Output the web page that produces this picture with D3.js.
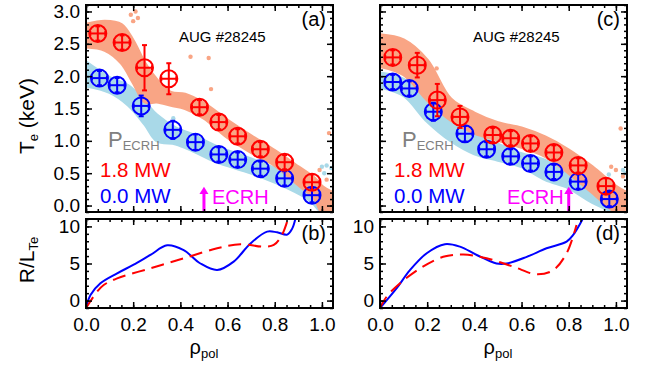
<!DOCTYPE html>
<html>
<head>
<meta charset="utf-8">
<script src="https://cdn.jsdelivr.net/npm/d3@7"></script>
<style>
  body { margin: 0; background: #fff; }
  svg { font-family: "Liberation Sans", Arial, sans-serif; }
</style>
</head>
<body>
<svg id="chart" width="656" height="370"></svg>
<script>
// ---- Te profiles, panel (a) ----
const rhoRedA = [0.05, 0.153, 0.248, 0.351, 0.481, 0.563, 0.643, 0.739, 0.842, 0.958];
const teRedA  = [2.66, 2.52, 2.13, 1.96, 1.52, 1.29, 1.07, 0.87, 0.67, 0.36];
const errRedA = [0.1, 0.1, 0.35, 0.24, 0.1, 0.1, 0.1, 0.1, 0.1, 0.12];
const rhoBlueA = [0.057, 0.132, 0.234, 0.368, 0.464, 0.563, 0.643, 0.739, 0.842, 0.958];
const teBlueA  = [1.97, 1.86, 1.54, 1.17, 0.98, 0.79, 0.71, 0.57, 0.42, 0.16];
const errBlueA = [0.1, 0.1, 0.16, 0.14, 0.12, 0.08, 0.08, 0.07, 0.05, 0.1];

// ---- Te profiles, panel (c) ----
const rhoRedC = [0.054, 0.158, 0.243, 0.339, 0.478, 0.554, 0.638, 0.737, 0.84, 0.958];
const teRedC  = [2.29, 2.17, 1.63, 1.37, 1.09, 1.04, 0.96, 0.82, 0.62, 0.30];
const errRedC = [0.1, 0.19, 0.25, 0.17, 0.07, 0.07, 0.07, 0.1, 0.1, 0.12];
const rhoBlueC = [0.054, 0.124, 0.226, 0.36, 0.452, 0.554, 0.638, 0.737, 0.84, 0.972];
const teBlueC  = [1.91, 1.81, 1.45, 1.11, 0.87, 0.76, 0.65, 0.52, 0.37, 0.10];
const errBlueC = [0.1, 0.1, 0.14, 0.12, 0.07, 0.07, 0.07, 0.07, 0.06, 0.1];

// ---- raw ECE clouds (envelopes) ----
const bandRhoRedA = [0, 0.08, 0.15, 0.2, 0.25, 0.3, 0.36, 0.42, 0.5, 0.6, 0.7, 0.8, 0.9, 0.97, 1.0, 1.047];
const bandHiRedA  = [2.8, 2.85, 2.8, 2.55, 2.2, 1.95, 1.75, 1.72, 1.58, 1.32, 1.08, 0.85, 0.6, 0.42, 0.3, 0.2];
const bandLoRedA  = [2.45, 2.4, 2.2, 1.9, 1.6, 1.6, 1.55, 1.5, 1.35, 1.05, 0.82, 0.62, 0.32, 0.1, -0.1, -0.1];
const bandRhoBlueA = [0, 0.1, 0.18, 0.25, 0.3, 0.38, 0.45, 0.55, 0.7, 0.85, 0.95, 1.0, 1.047];
const bandHiBlueA  = [2.22, 1.98, 1.85, 1.6, 1.4, 1.2, 1.1, 0.92, 0.72, 0.5, 0.3, 0.15, 0.1];
const bandLoBlueA  = [1.85, 1.75, 1.55, 1.25, 1.0, 0.95, 0.85, 0.68, 0.5, 0.28, 0.08, -0.1, -0.1];
const bandRhoRedC = [0, 0.1, 0.2, 0.3, 0.4, 0.5, 0.6, 0.7, 0.8, 0.9, 1.0, 1.047];
const bandHiRedC  = [2.64, 2.56, 2.25, 1.65, 1.43, 1.28, 1.2, 1.06, 0.86, 0.6, 0.3, 0.2];
const bandLoRedC  = [2.15, 2.02, 1.63, 1.32, 1.12, 1.01, 0.9, 0.76, 0.5, 0.2, -0.1, -0.1];
const bandRhoBlueC = [0, 0.1, 0.2, 0.3, 0.4, 0.5, 0.6, 0.7, 0.8, 0.9, 1.0, 1.047];
const bandHiBlueC  = [2.05, 1.95, 1.6, 1.4, 1.1, 0.95, 0.8, 0.7, 0.47, 0.3, 0.1, 0.05];
const bandLoBlueC  = [1.83, 1.7, 1.3, 1.0, 0.8, 0.7, 0.6, 0.4, 0.27, 0.05, -0.1, -0.1];

const strayRedA  = [[0.19, 2.95], [0.2, 2.85], [0.21, 3.0], [0.22, 2.9], [0.443, 2.3], [0.52, 2.28], [0.53, 1.8], [1.03, 1.12], [0.99, 0.55], [1.02, 0.4]];
const strayBlueA = [[1.0, 0.6], [1.02, 0.62], [1.04, 0.58], [1.01, 0.5], [0.4, 1.05], [0.37, 1.35]];
const strayRedC  = [[1.02, 1.19], [0.24, 2.12], [0.98, 0.6], [1.0, 0.55], [1.03, 0.45]];
const strayBlueC = [[1.03, 0.55], [1.04, 0.5], [0.97, 0.48]];

// ---- R/L_Te, panels (b) and (d) ----
const rhoGradBlueB = [0, 0.019, 0.061, 0.132, 0.2, 0.273, 0.344, 0.414, 0.485, 0.556, 0.626, 0.697, 0.768, 0.81, 0.853, 0.874, 0.888];
const gradBlueB    = [-1, 0.75, 2.33, 3.68, 4.8, 6.15, 7.45, 6.8, 5.0, 4.12, 5.25, 7.7, 9.3, 9.2, 8.9, 9.7, 11.1];
const rhoGradRedB  = [0, 0.047, 0.075, 0.132, 0.273, 0.414, 0.556, 0.655, 0.753, 0.796, 0.83, 0.855];
const gradRedB     = [-1, 1.2, 2.1, 3.0, 4.35, 5.7, 7.05, 7.6, 7.27, 7.5, 8.8, 10.9];
const rhoGradBlueD = [0, 0.07, 0.127, 0.198, 0.275, 0.339, 0.41, 0.494, 0.537, 0.622, 0.706, 0.791, 0.819, 0.861];
const gradBlueD    = [-1, 1.65, 4.1, 6.38, 7.6, 7.27, 6.15, 5.0, 5.0, 5.9, 7.05, 7.95, 8.85, 11.1];
const rhoGradRedD  = [0, 0.028, 0.085, 0.17, 0.268, 0.353, 0.452, 0.565, 0.664, 0.734, 0.791, 0.833];
const gradRedD     = [-1, 0.53, 2.33, 4.35, 5.9, 6.2, 5.7, 4.57, 3.54, 4.1, 6.38, 10.2];

const xTicks = [0, 0.2, 0.4, 0.6, 0.8, 1.0];
const teTicks = [0, 0.5, 1.0, 1.5, 2.0, 2.5, 3.0];
const gradTicks = [0, 5, 10];
const shotLabel = 'AUG #28245';

const svg = d3.select('#chart');
const pw = 247, th = 207, bh = 89, topY = 5, botY = 219;
const x = d3.scaleLinear().domain([0, 1.047]).range([0, pw]);
const yT = d3.scaleLinear().domain([-0.1, 3.1]).range([th, 0]);
const yB = d3.scaleLinear().domain([-1, 11]).range([bh, 0]);

const RED = '#ff0000', BLUE = '#0000ff', ORANGE = '#f9a585', LBLUE = '#a9d9e8';

function axisTicks(g, axis, vals, size, fmt, pad) {
  g.call(axis.tickValues(vals).tickSize(-size).tickPadding(pad || 6).tickFormat(fmt || ''));
  g.select('.domain').remove();
  g.selectAll('line').attr('stroke', '#000').attr('stroke-width', 1.5);
  g.selectAll('text').attr('font-size', 19).attr('fill', '#000')
    .attr('font-family', '"Liberation Sans", Arial, sans-serif');
}

function frame(g, h, yScale, major, minor, showX, showY, yfmt) {
  const xMinor = d3.range(0, 21).map(i => i * 0.05);
  axisTicks(g.append('g').attr('transform', `translate(0,${h})`), d3.axisBottom(x), xMinor, 3);
  axisTicks(g.append('g').attr('transform', `translate(0,${h})`), d3.axisBottom(x), xTicks, 6,
    showX ? d3.format('.1f') : null, 10);
  axisTicks(g.append('g'), d3.axisTop(x), xMinor, 3);
  axisTicks(g.append('g'), d3.axisTop(x), xTicks, 6);
  axisTicks(g.append('g'), d3.axisLeft(yScale), minor, 3);
  axisTicks(g.append('g'), d3.axisLeft(yScale), major, 6, showY ? yfmt : null, 6);
  axisTicks(g.append('g').attr('transform', `translate(${pw},0)`), d3.axisRight(yScale), minor, 3);
  axisTicks(g.append('g').attr('transform', `translate(${pw},0)`), d3.axisRight(yScale), major, 6);
  g.append('rect').attr('width', pw).attr('height', h)
    .attr('fill', 'none').attr('stroke', '#000').attr('stroke-width', 2);
}

function cloud(g, rho, hi, lo, stray, color) {
  const pts = rho.map((r, i) => ({r, hi: hi[i], lo: lo[i]}));
  g.append('path').datum(pts)
    .attr('d', d3.area().x(d => x(d.r)).y0(d => yT(d.lo)).y1(d => yT(d.hi)).curve(d3.curveCatmullRom))
    .attr('fill', color).attr('stroke', color).attr('stroke-width', 3).attr('stroke-linejoin', 'round');
  g.selectAll(null).data(stray).join('circle')
    .attr('cx', d => x(d[0])).attr('cy', d => yT(d[1])).attr('r', 2.2).attr('fill', color);
}

function markers(g, rho, te, err, color) {
  const pts = rho.map((r, i) => ({r, te: te[i], e: Math.max(err[i], 0.11)}));
  const m = g.selectAll(null).data(pts).join('g')
    .attr('stroke', color).attr('stroke-width', 2).attr('fill', 'none');
  m.append('circle').attr('cx', d => x(d.r)).attr('cy', d => yT(d.te)).attr('r', 8.5);
  m.append('line').attr('x1', d => x(d.r)).attr('x2', d => x(d.r))
    .attr('y1', d => yT(d.te - d.e)).attr('y2', d => yT(d.te + d.e));
  m.append('line').attr('x1', d => x(d.r) - 7.5).attr('x2', d => x(d.r) + 7.5)
    .attr('y1', d => yT(d.te)).attr('y2', d => yT(d.te));
  ['+', '-'].forEach(s => {
    m.append('line').attr('x1', d => x(d.r) - 2.5).attr('x2', d => x(d.r) + 2.5)
      .attr('y1', d => yT(s === '+' ? d.te + d.e : d.te - d.e))
      .attr('y2', d => yT(s === '+' ? d.te + d.e : d.te - d.e));
    m.append('line').attr('y1', d => yT(d.te) - 2.5).attr('y2', d => yT(d.te) + 2.5)
      .attr('x1', d => x(d.r) + (s === '+' ? 7.5 : -7.5))
      .attr('x2', d => x(d.r) + (s === '+' ? 7.5 : -7.5));
  });
}

function gradLine(g, rho, val, color, dashed) {
  g.append('path').datum(rho.map((r, i) => [r, val[i]]))
    .attr('d', d3.line().x(d => x(d[0])).y(d => yB(d[1])).curve(d3.curveCatmullRom))
    .attr('fill', 'none').attr('stroke', color).attr('stroke-width', 2)
    .attr('stroke-dasharray', dashed ? '13,7' : null);
}

const panels = [
  {x0: 86, letters: ['(a)', '(b)'], showY: true, ecrh: 0.5, textLeft: false,
   red: [rhoRedA, teRedA, errRedA], blue: [rhoBlueA, teBlueA, errBlueA],
   bandR: [bandRhoRedA, bandHiRedA, bandLoRedA, strayRedA], bandB: [bandRhoBlueA, bandHiBlueA, bandLoBlueA, strayBlueA],
   gradB: [rhoGradBlueB, gradBlueB], gradR: [rhoGradRedB, gradRedB]},
  {x0: 380, letters: ['(c)', '(d)'], showY: false, ecrh: 0.8, textLeft: true,
   red: [rhoRedC, teRedC, errRedC], blue: [rhoBlueC, teBlueC, errBlueC],
   bandR: [bandRhoRedC, bandHiRedC, bandLoRedC, strayRedC], bandB: [bandRhoBlueC, bandHiBlueC, bandLoBlueC, strayBlueC],
   gradB: [rhoGradBlueD, gradBlueD], gradR: [rhoGradRedD, gradRedD]}
];

panels.forEach((p, k) => {
  // ---- top: Te ----
  const gt = svg.append('g').attr('transform', `translate(${p.x0},${topY})`);
  const cid = 'clipT' + k;
  gt.append('clipPath').attr('id', cid).append('rect').attr('width', pw).attr('height', th);
  const data = gt.append('g').attr('clip-path', `url(#${cid})`);
  cloud(data, ...p.bandB, LBLUE);
  cloud(data, ...p.bandR, ORANGE);
  markers(data, ...p.blue, BLUE);
  markers(data, ...p.red, RED);

  gt.append('text').attr('x', x(0.578)).attr('y', 36.5).attr('text-anchor', 'middle')
    .attr('font-size', 15).text(shotLabel);
  gt.append('text').attr('x', 240).attr('y', 21).attr('text-anchor', 'end')
    .attr('font-size', 20).text(p.letters[0]);

  const pe = gt.append('text').attr('x', 22).attr('y', 142).attr('fill', '#808080').attr('font-size', 22);
  pe.append('tspan').text('P');
  pe.append('tspan').attr('font-size', 13).attr('dy', 3).text('ECRH');
  gt.append('text').attr('x', 14).attr('y', 172).attr('fill', RED).attr('font-size', 20.5).text('1.8 MW');
  gt.append('text').attr('x', 14).attr('y', 198).attr('fill', BLUE).attr('font-size', 20.5).text('0.0 MW');

  // ECRH deposition arrow
  const ax = x(p.ecrh);
  gt.append('line').attr('x1', ax).attr('x2', ax).attr('y1', yT(0.2)).attr('y2', th)
    .attr('stroke', '#ff00ff').attr('stroke-width', 3);
  gt.append('path').attr('fill', '#ff00ff')
    .attr('d', `M${ax},${yT(0.29)} L${ax - 4.5},${yT(0.18)} L${ax + 4.5},${yT(0.18)} Z`);
  gt.append('text').attr('x', p.textLeft ? ax - 5 : ax + 8).attr('y', 199)
    .attr('text-anchor', p.textLeft ? 'end' : 'start')
    .attr('fill', '#ff00ff').attr('font-size', 20).text('ECRH');

  frame(gt, th, yT, teTicks, d3.range(0, 33).map(i => -0.1 + i * 0.1), false, p.showY, d3.format('.1f'));

  // ---- bottom: R/L_Te ----
  const gb = svg.append('g').attr('transform', `translate(${p.x0},${botY})`);
  const cidB = 'clipB' + k;
  gb.append('clipPath').attr('id', cidB).append('rect').attr('width', pw).attr('height', bh);
  const lines = gb.append('g').attr('clip-path', `url(#${cidB})`);
  gradLine(lines, ...p.gradB, BLUE, false);
  gradLine(lines, ...p.gradR, RED, true);
  gb.append('text').attr('x', 240).attr('y', 21).attr('text-anchor', 'end')
    .attr('font-size', 20).text(p.letters[1]);
  frame(gb, bh, yB, gradTicks, d3.range(0, 13).map(i => i - 1), true, true, d3.format('d'));

  // x title
  const xt = svg.append('text').attr('x', p.x0 + x(0.5)).attr('y', 354)
    .attr('text-anchor', 'middle').attr('font-size', 20);
  xt.append('tspan').text('ρ');
  xt.append('tspan').attr('font-size', 13).attr('dy', 4).text('pol');
});

// y titles
const yt1 = svg.append('text').attr('transform', 'translate(34,116) rotate(-90)')
  .attr('text-anchor', 'middle').attr('font-size', 21);
yt1.append('tspan').text('T');
yt1.append('tspan').attr('font-size', 13).attr('dy', 4).text('e');
yt1.append('tspan').attr('dy', -4).text(' (keV)');

const yt2 = svg.append('text').attr('transform', 'translate(34,260) rotate(-90)')
  .attr('text-anchor', 'middle').attr('font-size', 21);
yt2.append('tspan').text('R/L');
yt2.append('tspan').attr('font-size', 13).attr('dy', 4).text('Te');
</script>
</body>
</html>
